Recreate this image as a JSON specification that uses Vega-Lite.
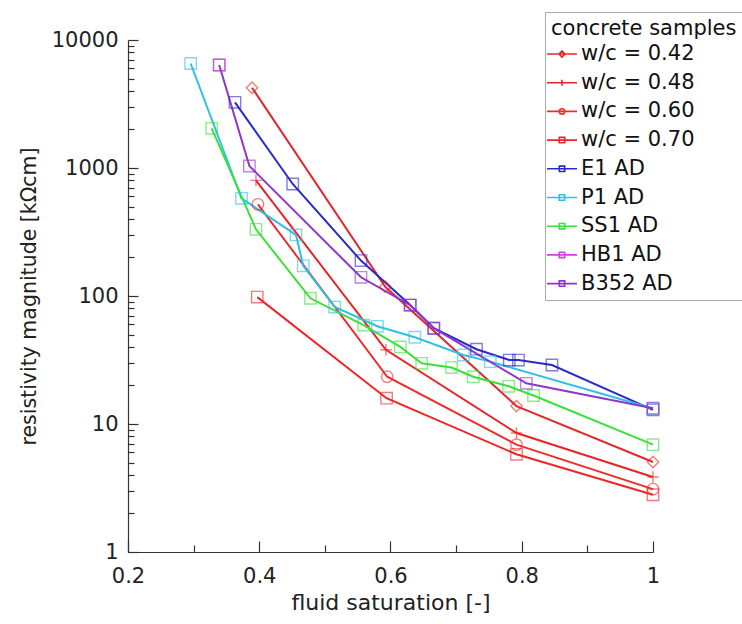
{
  "$schema": "https://vega.github.io/schema/vega-lite/v6.json",
  "width": 525,
  "height": 512,
  "autosize": {"type": "none"},
  "padding": {"left": 128, "top": 40, "right": 89, "bottom": 72},
  "background": "white",
  "config": {
    "view": {"stroke": null},
    "font": "DejaVu Sans"
  },
  "data": {
    "values": [
      {"s": "w/c = 0.42", "x": 0.389, "y": 4240},
      {"s": "w/c = 0.42", "x": 0.592, "y": 118},
      {"s": "w/c = 0.42", "x": 0.792, "y": 13.8},
      {"s": "w/c = 0.42", "x": 1.0, "y": 5.05},
      {"s": "w/c = 0.48", "x": 0.395, "y": 800},
      {"s": "w/c = 0.48", "x": 0.593, "y": 38},
      {"s": "w/c = 0.48", "x": 0.792, "y": 8.5},
      {"s": "w/c = 0.48", "x": 1.0, "y": 3.85},
      {"s": "w/c = 0.60", "x": 0.398, "y": 520},
      {"s": "w/c = 0.60", "x": 0.595, "y": 23.4},
      {"s": "w/c = 0.60", "x": 0.792, "y": 6.9},
      {"s": "w/c = 0.60", "x": 1.0, "y": 3.1},
      {"s": "w/c = 0.70", "x": 0.397, "y": 98},
      {"s": "w/c = 0.70", "x": 0.594, "y": 15.9},
      {"s": "w/c = 0.70", "x": 0.792, "y": 5.8},
      {"s": "w/c = 0.70", "x": 1.0, "y": 2.8},
      {"s": "E1 AD", "x": 0.363, "y": 3260},
      {"s": "E1 AD", "x": 0.451, "y": 750},
      {"s": "E1 AD", "x": 0.555, "y": 189},
      {"s": "E1 AD", "x": 0.630, "y": 85},
      {"s": "E1 AD", "x": 0.666, "y": 56},
      {"s": "E1 AD", "x": 0.731, "y": 38.4},
      {"s": "E1 AD", "x": 0.781, "y": 31.6},
      {"s": "E1 AD", "x": 0.795, "y": 31.6},
      {"s": "E1 AD", "x": 0.846, "y": 28.9},
      {"s": "E1 AD", "x": 1.0, "y": 12.9},
      {"s": "P1 AD", "x": 0.2955, "y": 6550},
      {"s": "P1 AD", "x": 0.373, "y": 580},
      {"s": "P1 AD", "x": 0.456, "y": 300},
      {"s": "P1 AD", "x": 0.467, "y": 172},
      {"s": "P1 AD", "x": 0.515, "y": 82},
      {"s": "P1 AD", "x": 0.580, "y": 58},
      {"s": "P1 AD", "x": 0.637, "y": 47.6},
      {"s": "P1 AD", "x": 0.711, "y": 34.6},
      {"s": "P1 AD", "x": 0.752, "y": 30.7},
      {"s": "P1 AD", "x": 1.0, "y": 13.2},
      {"s": "SS1 AD", "x": 0.3275, "y": 2040},
      {"s": "SS1 AD", "x": 0.395, "y": 332},
      {"s": "SS1 AD", "x": 0.478, "y": 96},
      {"s": "SS1 AD", "x": 0.559, "y": 59.3},
      {"s": "SS1 AD", "x": 0.615, "y": 40},
      {"s": "SS1 AD", "x": 0.6475, "y": 29.8},
      {"s": "SS1 AD", "x": 0.693, "y": 27.6},
      {"s": "SS1 AD", "x": 0.726, "y": 23.4},
      {"s": "SS1 AD", "x": 0.78, "y": 19.7},
      {"s": "SS1 AD", "x": 0.818, "y": 16.7},
      {"s": "SS1 AD", "x": 1.0, "y": 6.9},
      {"s": "B352 AD", "x": 0.339, "y": 6380},
      {"s": "B352 AD", "x": 0.385, "y": 1037},
      {"s": "B352 AD", "x": 0.555, "y": 140},
      {"s": "B352 AD", "x": 0.630, "y": 85},
      {"s": "B352 AD", "x": 0.666, "y": 56},
      {"s": "B352 AD", "x": 0.807, "y": 20.8},
      {"s": "B352 AD", "x": 1.0, "y": 13.3},
      {"s": "HB1 AD", "x": 0.339, "y": 6380}
    ]
  },
  "encoding": {
    "x": {
      "field": "x", "type": "quantitative",
      "scale": {"domain": [0.2, 1.0], "nice": false, "zero": false},
      "axis": {
        "title": "fluid saturation [-]",
        "values": [0.2, 0.3, 0.4, 0.5, 0.6, 0.7, 0.8, 0.9, 1.0],
        "format": ".1~f",
        "labelExpr": "indexof(['0.2','0.4','0.6','0.8','1'], datum.label) >= 0 ? datum.label : ''",
        "labelFlush": false,
        "labelOverlap": false,
        "grid": false,
        "domainColor": "#333",
        "domainWidth": 1.2,
        "tickColor": "#333",
        "tickWidth": 1.2,
        "tickSize": {"condition": {"test": "round(datum.value*10) % 2 == 0", "value": -11}, "value": -7},
        "labelPadding": 24,
        "labelFontSize": 21,
        "labelColor": "#222",
        "titleFontSize": 22,
        "titleFontWeight": "normal",
        "titleColor": "#222",
        "titlePadding": 2
      }
    },
    "y": {
      "field": "y", "type": "quantitative",
      "scale": {"type": "log", "domain": [1, 10000], "nice": false},
      "axis": {
        "title": "resistivity magnitude [kΩcm]",
        "values": [1,2,3,4,5,6,7,8,9,10,20,30,40,50,60,70,80,90,100,200,300,400,500,600,700,800,900,1000,2000,3000,4000,5000,6000,7000,8000,9000,10000],
        "format": "d",
        "labelExpr": "indexof(['1','10','100','1000','10000'], datum.label) >= 0 ? datum.label : ''",
        "labelFlush": false,
        "labelOverlap": false,
        "grid": false,
        "domainColor": "#333",
        "domainWidth": 1.2,
        "tickColor": "#333",
        "tickWidth": 1.2,
        "tickSize": {"condition": {"test": "indexof([1,10,100,1000,10000], datum.value) >= 0", "value": -10}, "value": -6},
        "labelPadding": 20,
        "labelFontSize": 21,
        "labelColor": "#222",
        "titleFontSize": 20.5,
        "titleFontWeight": "normal",
        "titleColor": "#222",
        "titlePadding": 12
      }
    }
  },
  "layer": [
    {
      "mark": {"type": "line", "strokeWidth": 2},
      "encoding": {
        "color": {
          "field": "s", "type": "nominal",
          "scale": {
            "domain": ["w/c = 0.42", "w/c = 0.48", "w/c = 0.60", "w/c = 0.70", "E1 AD", "P1 AD", "SS1 AD", "HB1 AD", "B352 AD"],
            "range": ["#e02a2a", "#e82424", "#ee2c2c", "#ee2626", "#2a2ac8", "#30bfe6", "#3ae03a", "#d23ee0", "#8e36cc"]
          },
          "legend": null
        }
      }
    },
    {
      "mark": {"type": "point", "filled": false, "size": 130, "strokeWidth": 1.4, "opacity": 0.6},
      "encoding": {
        "color": {"field": "s", "type": "nominal", "legend": null},
        "shape": {
          "field": "s", "type": "nominal",
          "scale": {
            "domain": ["w/c = 0.42", "w/c = 0.48", "w/c = 0.60", "w/c = 0.70", "E1 AD", "P1 AD", "SS1 AD", "HB1 AD", "B352 AD"],
            "range": [
              "M0,-1L1,0L0,1L-1,0Z",
              "M-1,0H1M0,-1V1",
              "circle",
              "square", "square", "square", "square", "square", "square"
            ]
          },
          "legend": null
        }
      }
    },
    {
      "transform": [{"filter": "false"}],
      "mark": {"type": "point", "filled": false, "size": 400, "strokeWidth": 1.6, "opacity": 1},
      "encoding": {
        "color": {
          "field": "s", "type": "nominal",
          "legend": {
            "title": "concrete samples",
            "orient": "none",
            "legendX": 417,
            "legendY": -28,
            "strokeColor": "#aaaaaa",
            "fillColor": "white",
            "padding": 6,
            "titleFontSize": 21,
            "titleFontWeight": "normal",
            "titleColor": "#111",
            "titleLimit": 400,
            "titlePadding": 4,
            "labelFontSize": 21,
            "labelColor": "#111",
            "labelLimit": 300,
            "rowPadding": 7.7,
            "symbolOffset": 0,
            "labelOffset": 8,
            "symbolSize": 400,
            "symbolStrokeWidth": 1.6
          }
        },
        "shape": {
          "field": "s", "type": "nominal",
          "scale": {
            "domain": ["w/c = 0.42", "w/c = 0.48", "w/c = 0.60", "w/c = 0.70", "E1 AD", "P1 AD", "SS1 AD", "HB1 AD", "B352 AD"],
            "range": [
              "M-1.5,0H1.5M0,-0.3L0.3,0L0,0.3L-0.3,0Z",
              "M-1.5,0H1.5M0,-0.3V0.3",
              "M-1.5,0H1.5M0.27,0A0.27,0.27,0,1,1,-0.27,0A0.27,0.27,0,1,1,0.27,0",
              "M-1.5,0H1.5M-0.27,-0.27H0.27V0.27H-0.27Z",
              "M-1.5,0H1.5M-0.27,-0.27H0.27V0.27H-0.27Z",
              "M-1.5,0H1.5M-0.27,-0.27H0.27V0.27H-0.27Z",
              "M-1.5,0H1.5M-0.27,-0.27H0.27V0.27H-0.27Z",
              "M-1.5,0H1.5M-0.27,-0.27H0.27V0.27H-0.27Z",
              "M-1.5,0H1.5M-0.27,-0.27H0.27V0.27H-0.27Z"
            ]
          },
          "legend": {
            "title": "concrete samples",
            "orient": "none",
            "legendX": 417,
            "legendY": -28,
            "strokeColor": "#aaaaaa",
            "fillColor": "white",
            "padding": 6,
            "titleFontSize": 21,
            "titleFontWeight": "normal",
            "titleColor": "#111",
            "titleLimit": 400,
            "titlePadding": 4,
            "labelFontSize": 21,
            "labelColor": "#111",
            "labelLimit": 300,
            "rowPadding": 7.7,
            "symbolOffset": 0,
            "labelOffset": 8,
            "symbolSize": 400,
            "symbolStrokeWidth": 1.6
          }
        }
      }
    }
  ],
  "resolve": {
    "scale": {"shape": "independent"},
    "legend": {"color": "independent", "shape": "independent"}
  }
}
